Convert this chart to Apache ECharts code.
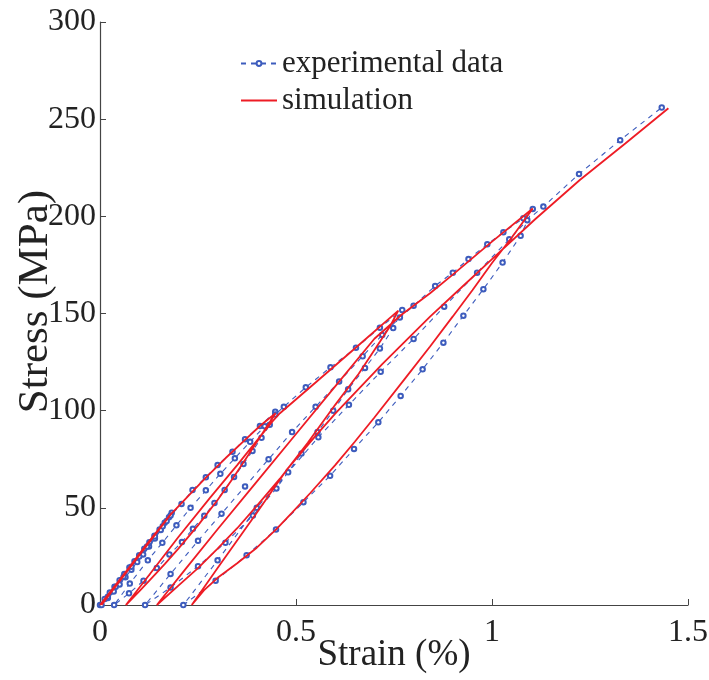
<!DOCTYPE html>
<html>
<head>
<meta charset="utf-8">
<script src="https://cdn.jsdelivr.net/npm/echarts@6/dist/echarts.min.js"></script>
<style>
html,body{margin:0;padding:0;background:#fff;}
#chart{width:709px;height:680px;}
</style>
</head>
<body>
<div id="chart"></div>
<script>
// Tick labels
const xTicks = [0, 0.5, 1, 1.5];
const yTicks = [0, 50, 100, 150, 200, 250, 300];
const seriesNames = ['experimental data', 'simulation'];

// Experimental data (strain %, stress MPa), path segments in order
const expLoad1 = [[0,0],[0.012,3.1],[0.025,6.4],[0.037,9.4],[0.05,12.8],[0.062,15.9],[0.075,19.3],[0.088,22.5],[0.1,25.6],[0.113,29],[0.126,32.3],[0.139,35.6],[0.152,38.9],[0.165,42.3],[0.176,45.2],[0.183,47.5]];
const expUnload1 = [[0.17,43.2],[0.155,38.6],[0.14,34.2],[0.125,30.1],[0.11,26],[0.095,22.1],[0.08,18.2],[0.065,14.3],[0.05,10.6],[0.035,7],[0.02,3.6],[0.004,0]];
const expReload1 = [[0.02,4.3],[0.04,9.4],[0.06,14.6],[0.08,19.7],[0.1,24.9],[0.12,30.1],[0.14,35.3],[0.16,40.5],[0.18,46.1],[0.208,52],[0.236,59.2],[0.27,65.7],[0.3,72],[0.338,78.9],[0.37,85.3],[0.408,92.1],[0.447,99.5]];
const expUnload2 = [[0.433,92.7],[0.412,86],[0.389,79.3],[0.366,72.6],[0.342,65.9],[0.318,59.2],[0.292,52.5],[0.266,45.9],[0.237,39.2],[0.209,32.4],[0.177,26],[0.145,19],[0.111,12.5],[0.074,6],[0.036,0]];
const expReload2 = [[0.076,11],[0.122,23],[0.159,32],[0.195,41],[0.231,50],[0.27,59],[0.307,67.5],[0.344,75.5],[0.383,84],[0.42,92],[0.447,98],[0.469,102],[0.525,112],[0.588,122.3],[0.653,132.4],[0.714,142.7],[0.771,151.8]];
const expUnload3 = [[0.748,142.5],[0.714,132],[0.676,122],[0.633,111],[0.595,100],[0.555,89],[0.514,78],[0.45,60],[0.39,46],[0.32,32],[0.25,20],[0.18,9],[0.115,0]];
const expReload3 = [[0.18,16],[0.25,33],[0.31,47],[0.37,61],[0.43,75],[0.49,89],[0.55,102],[0.61,115],[0.67,128],[0.72,139],[0.765,148],[0.8,154],[0.855,164.2],[0.9,171],[0.94,178],[0.988,185.6],[1.029,191.8],[1.08,199],[1.104,203.8]];
const expUnload4 = [[1.073,190],[1.027,176.2],[0.978,162.5],[0.927,148.9],[0.876,135],[0.823,121.3],[0.767,107.6],[0.71,94],[0.648,80.3],[0.587,66.5],[0.519,52.9],[0.449,38.9],[0.374,25.6],[0.295,12.5],[0.2125,0]];
const expReload4 = [[0.3,23],[0.4,50],[0.48,68.3],[0.557,86.3],[0.635,103],[0.716,120],[0.8,136.9],[0.878,153.5],[0.962,171],[1.044,188.2],[1.09,198],[1.131,205],[1.222,221.8],[1.327,239.2],[1.433,256]];

// Simulation path segments
const simLoad1 = [[0,0],[0.05,13],[0.1,26],[0.15,39],[0.183,47.5]];
const simUnload1 = [[0.12,31.5],[0.06,15.5],[0.004,0]];
const simReload1 = [[0.1,25.5],[0.18,46.5],[0.22,55],[0.27,65.5],[0.32,75.5],[0.37,85],[0.41,92.5],[0.448,98.7]];
const simUnload2 = [[0.42,90],[0.378,77],[0.34,65.5],[0.3,54],[0.25,41],[0.2,29],[0.165,21],[0.13,13.5],[0.1,7],[0.066,0]];
const simReload2 = [[0.12,14],[0.2,35],[0.28,55],[0.35,72],[0.41,87],[0.44,94.5],[0.459,98.7],[0.55,114.5],[0.65,132],[0.761,151.5]];
const simUnload3 = [[0.74,143.5],[0.714,135.5],[0.66,119],[0.6,103],[0.53,83.5],[0.459,65],[0.4,51],[0.35,39.5],[0.3,29],[0.25,19],[0.2,10],[0.145,0]];
const simReload3 = [[0.22,19],[0.3,39],[0.4,63.5],[0.5,88],[0.6,112.5],[0.7,137],[0.77,149.5],[0.842,160.4],[0.9,170],[1.0,187],[1.104,204]];
const simUnload4 = [[1.05,189],[1.0,176],[0.95,162],[0.9,148.5],[0.842,133],[0.78,117],[0.7,96.5],[0.65,84],[0.6,72],[0.536,57.5],[0.49,47.5],[0.45,39],[0.4,29.5],[0.35,21.5],[0.3,14],[0.265,7.5],[0.234,0]];
const simReload4 = [[0.3,19],[0.4,47.5],[0.476,69.5],[0.55,87],[0.6,98.5],[0.72,124],[0.842,148.4],[0.92,163],[1.0,178],[1.11,198.5],[1.224,218.7],[1.34,237.5],[1.45,255.6]];

const expData = [].concat(expLoad1, expUnload1, expReload1, expUnload2, expReload2, expUnload3, expReload3, expUnload4, expReload4);
const simData = [].concat(simLoad1, simUnload1, simReload1, simUnload2, simReload2, simUnload3, simReload3, simUnload4, simReload4);

const FONT = "'Liberation Serif','Times New Roman',serif";
const BLUE = '#3d5cbd';
const RED = '#ee1c25';
const chart = echarts.init(document.getElementById('chart'), null, {renderer:'canvas'});
chart.setOption({
  animation: false,
  backgroundColor: '#fff',
  grid: {left: 100, right: 21, top: 22, bottom: 75, containLabel: false, outerBoundsMode: 'none'},
  legend: {
    orient: 'vertical', left: 240, top: 48, padding: 0,
    itemWidth: 36, itemHeight: 6, itemGap: 6,
    textStyle: {fontFamily: FONT, fontSize: 31, color: '#222'},
    data: [
      {name: seriesNames[0], itemStyle: {color: BLUE, borderColor: BLUE, borderWidth: 0}},
      {name: seriesNames[1], itemStyle: {color: 'rgba(0,0,0,0)', borderColor: 'rgba(0,0,0,0)', borderWidth: 0, opacity: 0}}
    ]
  },
  xAxis: {
    type: 'value', min: xTicks[0], max: xTicks[xTicks.length-1], interval: 0.5,
    name: 'Strain (%)', nameLocation: 'middle', nameGap: 32, nameMoveOverlap: false,
    nameTextStyle: {fontFamily: FONT, fontSize: 37, color: '#222'},
    axisLine: {lineStyle: {color: '#444', width: 1.2}},
    axisTick: {inside: true, length: 6, lineStyle: {color: '#444'}},
    axisLabel: {fontFamily: FONT, fontSize: 32, color: '#222', margin: 12},
    splitLine: {show: false}
  },
  yAxis: {
    type: 'value', min: yTicks[0], max: yTicks[yTicks.length-1], interval: 50,
    name: 'Stress (MPa)', nameLocation: 'middle', nameGap: 43, nameMoveOverlap: false,
    nameTextStyle: {fontFamily: FONT, fontSize: 43, color: '#222', padding: [0, 0, 0, 24]},
    axisLine: {show: true, lineStyle: {color: '#444', width: 1.2}},
    axisTick: {show: true, inside: true, length: 6, lineStyle: {color: '#444'}},
    axisLabel: {fontFamily: FONT, fontSize: 32, color: '#222', margin: 4},
    splitLine: {show: false}
  },
  series: [
    {
      name: seriesNames[0], type: 'line', data: expData,
      symbol: 'emptyCircle', symbolSize: 4.5,
      lineStyle: {color: BLUE, width: 1.1, type: [5, 5]},
      itemStyle: {color: BLUE, borderWidth: 1},
      z: 2
    },
    {
      name: seriesNames[1], type: 'line', data: simData,
      showSymbol: false, symbol: 'none',
      lineStyle: {color: RED, width: 1.8},
      itemStyle: {color: RED},
      z: 3
    }
  ]
});
</script>
</body>
</html>
